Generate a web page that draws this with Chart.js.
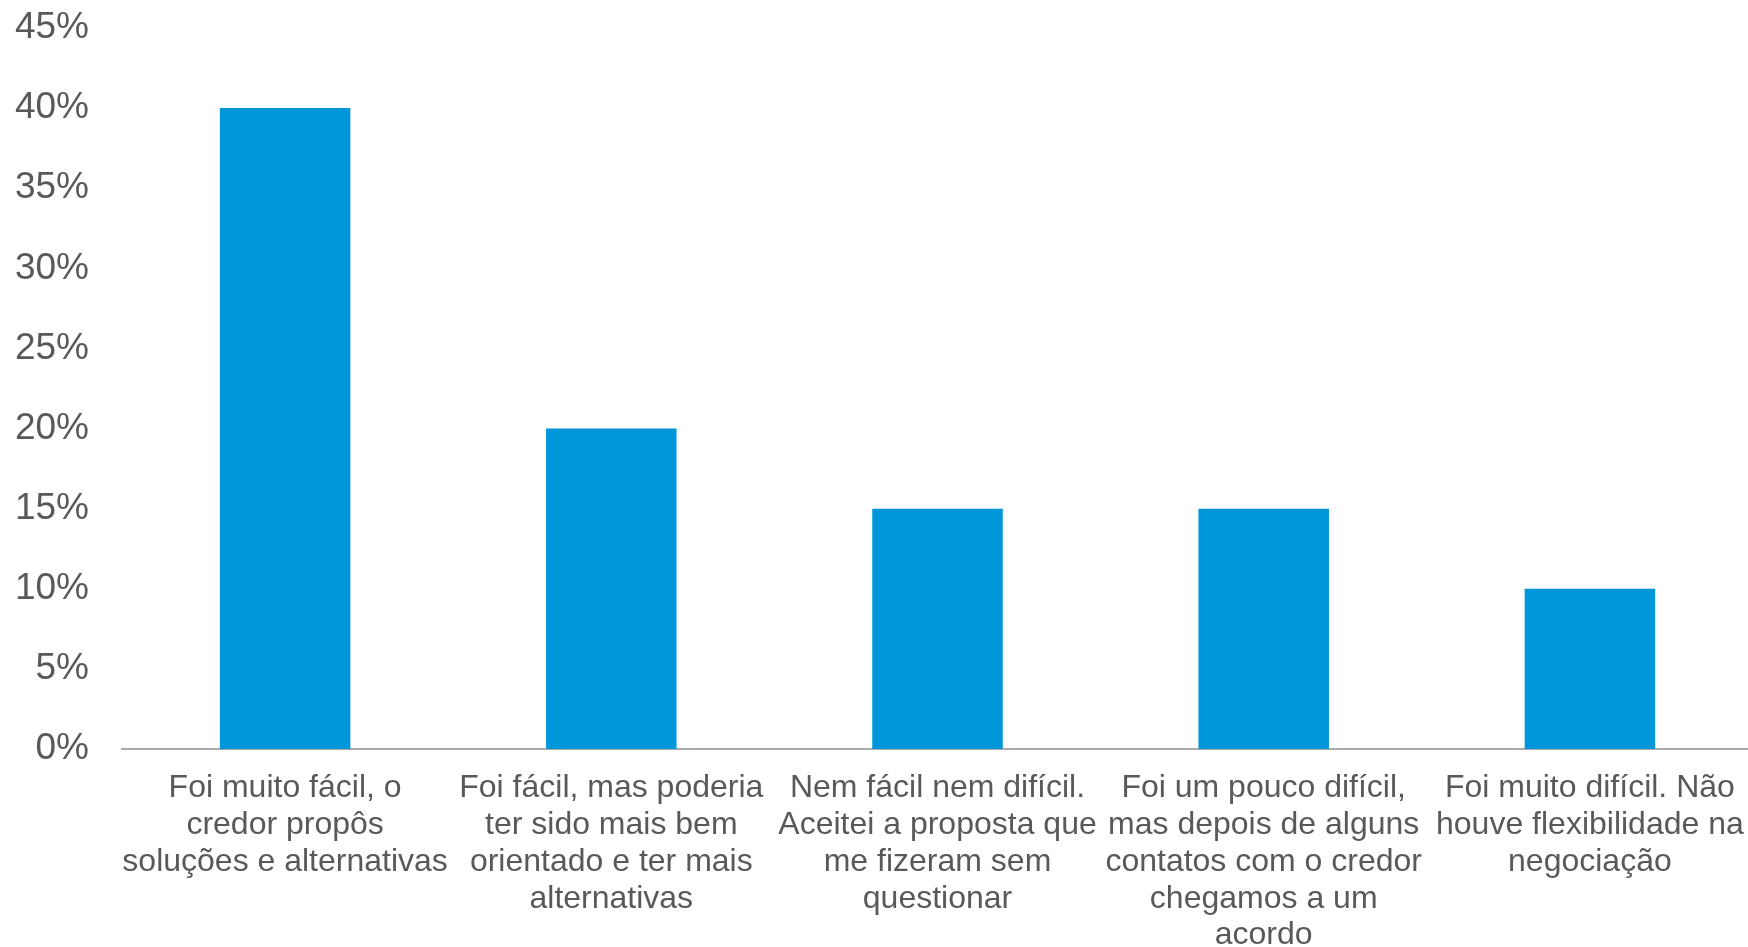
<!DOCTYPE html>
<html>
<head>
<meta charset="utf-8">
<script src="https://cdn.jsdelivr.net/npm/chart.js@4"></script>
<style>
  html, body { margin: 0; padding: 0; background: #fff; overflow: hidden; }
  /* o eixo do original passa um pouco da borda direita: canvas um pouco mais largo */
  #wrap { width: 1753px; height: 947px; position: relative; }
</style>
</head>
<body>
<div id="wrap"><canvas id="grafico"></canvas></div>
<script>
// Categorias (quebradas em linhas como no original)
const categorias = [
    ['Foi muito fácil, o', 'credor propôs', 'soluções e alternativas'],
    ['Foi fácil, mas poderia', 'ter sido mais bem', 'orientado e ter mais', 'alternativas'],
    ['Nem fácil nem difícil.', 'Aceitei a proposta que', 'me fizeram sem', 'questionar'],
    ['Foi um pouco difícil,', 'mas depois de alguns', 'contatos com o credor', 'chegamos a um', 'acordo'],
    ['Foi muito difícil. Não', 'houve flexibilidade na', 'negociação']
];

// Percentual de respostas
const percentuais = [40, 20, 15, 15, 10];

// Eixo Y
const yMin = 0;
const yMax = 45;
const yPasso = 5;

const corTexto = '#595959';
const corBarra = '#0096DA';

const ctx = document.getElementById('grafico').getContext('2d');

new Chart(ctx, {
    type: 'bar',
    data: {
        labels: categorias,
        datasets: [{
            data: percentuais,
            backgroundColor: corBarra,
            borderWidth: 0,
            categoryPercentage: 1.0,
            barPercentage: 0.4
        }]
    },
    options: {
        responsive: true,
        maintainAspectRatio: false,
        animation: false,
        layout: {
            padding: { top: 28, right: 0, bottom: 0, left: 0 }
        },
        plugins: {
            legend: { display: false },
            title: { display: false },
            tooltip: { enabled: false }
        },
        scales: {
            x: {
                grid: { display: false, drawTicks: false },
                border: { display: true, color: '#ABABAB', width: 2 },
                ticks: {
                    color: corTexto,
                    font: { family: 'Liberation Sans, Arial, sans-serif', size: 32, lineHeight: 1.15 },
                    padding: 21,
                    autoSkip: false,
                    maxRotation: 0,
                    minRotation: 0
                },
                afterFit: (scale) => {
                    scale.height = 198;
                    scale.paddingLeft = 0;
                    scale.paddingRight = 0;
                }
            },
            y: {
                min: yMin,
                max: yMax,
                grid: { display: false, drawTicks: false },
                border: { display: false },
                ticks: {
                    stepSize: yPasso,
                    color: corTexto,
                    font: { family: 'Liberation Sans, Arial, sans-serif', size: 37 },
                    padding: 33,
                    callback: (v) => v + '%'
                },
                afterFit: (scale) => {
                    scale.width = 122;
                    scale.paddingTop = 0;
                    scale.paddingBottom = 0;
                }
            }
        }
    }
});
</script>
</body>
</html>
